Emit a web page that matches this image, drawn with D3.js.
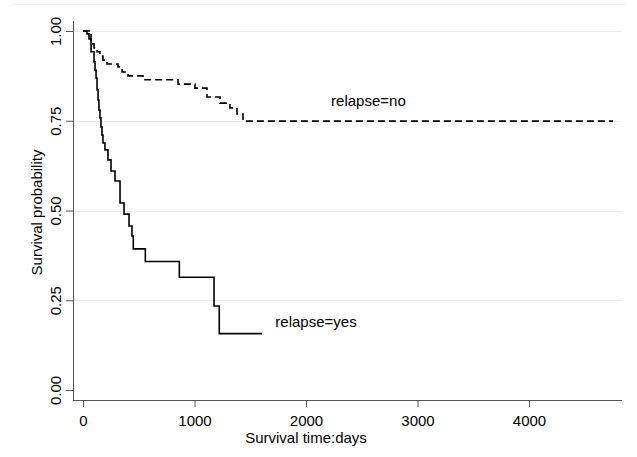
<!DOCTYPE html>
<html><head><meta charset="utf-8">
<script src="https://cdn.jsdelivr.net/npm/d3@7/dist/d3.min.js"></script>
<style>
html,body{margin:0;padding:0;background:#fff;}
svg{display:block;font-family:"Liberation Sans",Arial,sans-serif;}
</style></head>
<body>
<svg id="chart" width="637" height="457"></svg>
<script>
// Kaplan-Meier estimates, relapse = yes (solid)
const yesTime = [0, 36, 54, 72, 99, 108, 117, 126, 135, 143, 152, 161, 170, 179, 197, 224, 251, 287, 332, 368, 413, 439, 451, 559, 864, 1175, 1222, 1605];
const yesSurv = [1.0, 0.992, 0.978, 0.942, 0.914, 0.891, 0.869, 0.836, 0.808, 0.780, 0.758, 0.733, 0.710, 0.688, 0.669, 0.641, 0.610, 0.582, 0.521, 0.490, 0.457, 0.429, 0.393, 0.358, 0.314, 0.234, 0.157, 0.157];
// Kaplan-Meier estimates, relapse = no (dashed)
const noTime = [0, 72, 99, 126, 152, 179, 215, 314, 350, 404, 538, 852, 1004, 1112, 1229, 1318, 1381, 1435, 4753];
const noSurv = [1.0, 0.964, 0.953, 0.942, 0.930, 0.919, 0.908, 0.900, 0.886, 0.875, 0.864, 0.852, 0.841, 0.816, 0.799, 0.786, 0.769, 0.749, 0.749];
const xTicks = [0, 1000, 2000, 3000, 4000];
const yTicks = [0, 0.25, 0.5, 0.75, 1];
const groupLabels = ["relapse=no", "relapse=yes"];

const svg = d3.select("#chart");
const plot = {left: 73, right: 622, top: 21, bottom: 400};
const x = d3.scaleLinear().domain([0, d3.max(noTime.concat(yesTime))]).range([83, 613]);
const y = d3.scaleLinear().domain([0, 1]).range([390, 31]);
const fontSize = 15;

// faint outer border line at top
svg.append("line").attr("x1", 11).attr("x2", 626).attr("y1", 4.5).attr("y2", 4.5)
  .attr("stroke", "#eef3f3").attr("stroke-width", 1);

// gridlines
svg.append("g").selectAll("line").data(yTicks.filter(d => d > 0)).join("line")
  .attr("x1", plot.left).attr("x2", plot.right)
  .attr("y1", d => Math.round(y(d)) + 0.5).attr("y2", d => Math.round(y(d)) + 0.5)
  .attr("stroke", "#e7eeee").attr("stroke-width", 1.2);

// y axis
const yAxis = d3.axisLeft(y).tickValues(yTicks).tickFormat(d3.format(".2f")).tickSize(7).tickPadding(10);
const gy = svg.append("g").attr("transform", `translate(${plot.left},0)`).call(yAxis);
gy.select(".domain").attr("d", `M0.5,${plot.top}V${plot.bottom}`).attr("stroke", "#555");
gy.selectAll(".tick line").attr("stroke", "#555");
gy.selectAll(".tick text")
  .attr("font-size", fontSize).attr("fill", "#000")
  .attr("text-anchor", "middle").attr("dy", null)
  .attr("transform", "translate(-18,0) rotate(-90)").attr("x", 0).attr("y", 0)
  .attr("dominant-baseline", "central");

// x axis
const xAxis = d3.axisBottom(x).tickValues(xTicks).tickFormat(d3.format("d")).tickSize(7).tickPadding(8);
const gx = svg.append("g").attr("transform", `translate(0,${plot.bottom})`).call(xAxis);
gx.select(".domain").attr("d", `M${plot.left},0.5H${plot.right}`).attr("stroke", "#555");
gx.selectAll(".tick line").attr("stroke", "#555");
gx.selectAll(".tick text").attr("font-size", fontSize).attr("fill", "#000");

// axis titles
svg.append("text").attr("x", (x(0) + x(4000)) / 2).attr("y", 443).attr("text-anchor", "middle")
  .attr("font-size", fontSize).text("Survival time:days");
svg.append("text").attr("transform", `translate(42,${(plot.top + plot.bottom) / 2 + 2}) rotate(-90)`)
  .attr("text-anchor", "middle").attr("font-size", fontSize).text("Survival probability");

// curves
const line = d3.line().curve(d3.curveStepAfter).x(d => x(d[0])).y(d => y(d[1]));
svg.append("path").datum(noTime.map((t, i) => [t, noSurv[i]]))
  .attr("d", line).attr("fill", "none").attr("stroke", "#000").attr("stroke-width", 1.6)
  .attr("stroke-dasharray", "7,4");
svg.append("path").datum(yesTime.map((t, i) => [t, yesSurv[i]]))
  .attr("d", line).attr("fill", "none").attr("stroke", "#000").attr("stroke-width", 1.6);

// group labels
svg.append("text").attr("x", x(2225)).attr("y", y(0.79)).attr("font-size", fontSize).text(groupLabels[0]);
svg.append("text").attr("x", x(1725)).attr("y", y(0.175)).attr("font-size", fontSize).text(groupLabels[1]);
</script>
</body></html>
